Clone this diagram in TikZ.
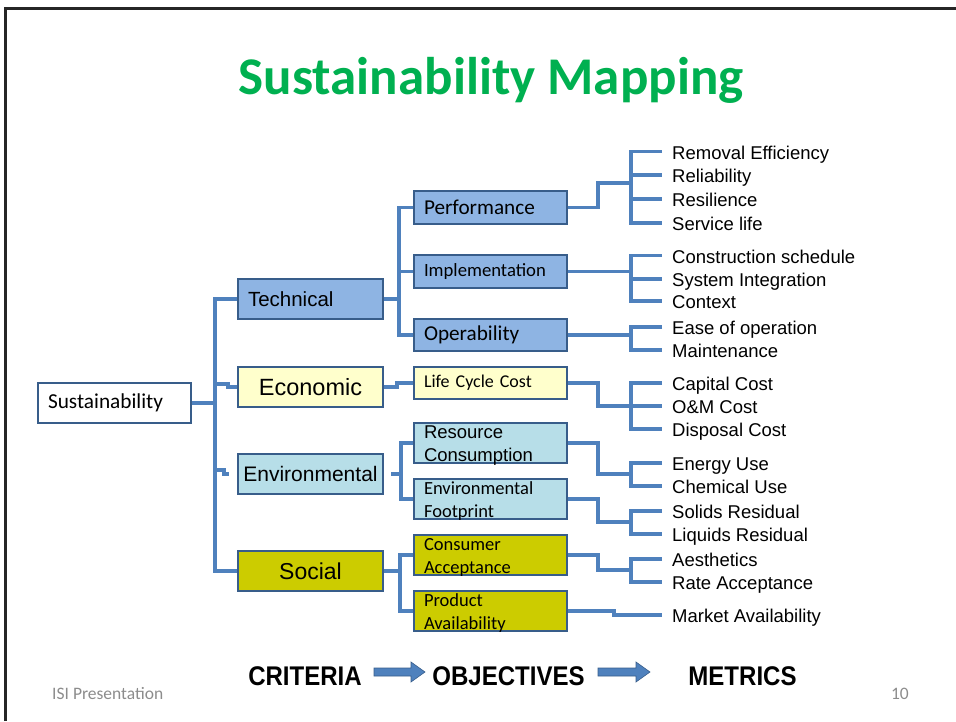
\documentclass[tikz,border=0pt]{standalone}
\usepackage{fontspec}
\usepackage{graphicx}
\setmainfont{Liberation Sans}
\newfontfamily\carl{Carlito}
\definecolor{linkblue}{HTML}{4F81BD}
\definecolor{boxborder}{HTML}{385D8A}
\definecolor{techfill}{HTML}{8EB4E3}
\definecolor{econfill}{HTML}{FFFFCC}
\definecolor{envfill}{HTML}{B7DEE8}
\definecolor{socfill}{HTML}{CCCC00}
\definecolor{titlegreen}{HTML}{00B050}
\definecolor{footgray}{HTML}{8C8C8C}
\newcommand{\fs}[1]{\fontsize{#1}{#1}\selectfont}
\tikzset{
  link/.style={draw=linkblue, line width=3.3pt, line join=miter},
  box/.style={draw=boxborder, line width=2.2pt, inner xsep=10pt, inner ysep=0pt, text=black},
  crit/.style={box, text width=125pt, minimum height=40pt},
  obj/.style={box, text width=133pt, align=left},
  twoline/.style={obj, minimum height=40pt, text height=15.5pt, text depth=24.5pt},
  metric/.style={anchor=west, inner sep=0pt, font=\fs{18.5}, text height=15pt, text depth=0pt},
  botlabel/.style={font=\bfseries\fs{27}, inner sep=0pt},
  blockarrow/.style={fill=linkblue, draw=boxborder, line width=0.6pt}
}
\begin{document}
\begin{tikzpicture}[x=1pt,y=-1pt]
\useasboundingbox (0,0) rectangle (956,721);
\draw[black!85, line width=3pt] (5,721) -- (5,8) -- (956,8);

\node[anchor=base, font=\carl\bfseries\fs{53}, text=titlegreen, inner sep=0pt] (title) at (491,94) {Sustainability Mapping};

% root
\node[box, text width=133pt, minimum height=40pt, align=left, font=\carl\fs{21.3}] (sus) at (114.5,403) {Sustainability};

% criteria
\node[crit, fill=techfill, align=left, font=\fs{20.5}] (tech) at (310.5,299) {Technical};
\node[crit, fill=econfill, align=center, font=\fs{23.5}] (econ) at (310.5,387) {Economic};
\node[crit, fill=envfill, align=center, font=\fs{21}, inner xsep=1pt, text width=143pt] (env) at (310.5,474) {Environmental};
\node[crit, fill=socfill, align=center, font=\fs{23}] (soc) at (310.5,571) {Social};

% objectives
\node[obj, fill=techfill, minimum height=33pt, font=\carl\fs{21.2}] (perf) at (490.5,207.5) {Performance};
\node[obj, fill=techfill, minimum height=33pt, font=\carl\fs{18.7}] (impl) at (490.5,271.5) {Implementation};
\node[obj, fill=techfill, minimum height=32pt, font=\carl\fs{21.2}] (oper) at (490.5,335) {Operability};
\node[obj, fill=econfill, minimum height=32pt, font=\carl\fs{18}] (lcc) at (490.5,383) {Life Cycle Cost};
\node[twoline, fill=envfill, font=\fontsize{18.5}{22.7}\selectfont] (res) at (490.5,443) {Resource\\Consumption};
\node[twoline, fill=envfill, font=\carl\fontsize{18.5}{22.5}\selectfont] (foot) at (490.5,499) {Environmental\\Footprint};
\node[twoline, fill=socfill, font=\carl\fontsize{18.5}{22.5}\selectfont] (cons) at (490.5,555) {Consumer\\Acceptance};
\node[twoline, fill=socfill, font=\carl\fontsize{18.5}{22.5}\selectfont] (prod) at (490.5,611) {Product\\Availability};

% metrics
\node[metric] (m1) at (672,151.5) {Removal Efficiency};
\node[metric] (m2) at (672,175) {Reliability};
\node[metric] (m3) at (672,199) {Resilience};
\node[metric] (m4) at (672,223) {Service life};
\node[metric] (m5) at (672,255.5) {Construction schedule};
\node[metric] (m6) at (672,279) {System Integration};
\node[metric] (m7) at (672,301) {Context};
\node[metric] (m8) at (672,327) {Ease of operation};
\node[metric] (m9) at (672,350) {Maintenance};
\node[metric] (m10) at (672,383) {Capital Cost};
\node[metric] (m11) at (672,406) {O\&M Cost};
\node[metric] (m12) at (672,429) {Disposal Cost};
\node[metric] (m13) at (672,463) {Energy Use};
\node[metric] (m14) at (672,486) {Chemical Use};
\node[metric] (m15) at (672,511) {Solids Residual};
\node[metric] (m16) at (672,534) {Liquids Residual};
\node[metric] (m17) at (672,559) {Aesthetics};
\node[metric] (m18) at (672,582) {Rate Acceptance};
\node[metric] (m19) at (672,615) {Market Availability};

% root -> criteria
\draw[link] (sus.east) -- (215,403);
\draw[link] (tech.west) -- (215,299) -- (215,571) -- (soc.west);
\draw[link] (215,384) -- (228,384) -- (228,387) -- (econ.west);
\coordinate (envstub) at ([xshift=-8pt]env.west);
\draw[link] (215,470) -- (224,470) -- (224,474) -- (envstub);

% criteria -> objectives
\draw[link] (tech.east) -- (399,299);
\draw[link] (perf.west) -- (399,207.5) -- (399,335) -- (oper.west);
\draw[link] (impl.west) -- (399,271.5);
\draw[link] (econ.east) -- (397,387) -- (397,383) -- (lcc.west);
\coordinate (envout) at ([xshift=7pt]env.east);
\draw[link] (envout) -- (401,474);
\draw[link] (res.west) -- (401,443) -- (401,499) -- (foot.west);
\draw[link] (soc.east) -- (400,571);
\draw[link] (cons.west) -- (400,555) -- (400,611) -- (prod.west);

% objectives -> metrics
\draw[link] (perf.east) -- (598,207.5) -- (598,183) -- (631,183);
\draw[link] ([xshift=-10pt]m1.west) -- (631,151.5) -- (631,223) -- ([xshift=-10pt]m4.west);
\draw[link] (631,175) -- ([xshift=-10pt]m2.west);
\draw[link] (631,199) -- ([xshift=-10pt]m3.west);

\draw[link] (impl.east) -- (631,271.5);
\draw[link] ([xshift=-10pt]m5.west) -- (631,255.5) -- (631,301) -- ([xshift=-10pt]m7.west);
\draw[link] (631,279) -- ([xshift=-10pt]m6.west);

\draw[link] (oper.east) -- (631,335);
\draw[link] ([xshift=-10pt]m8.west) -- (631,327) -- (631,350) -- ([xshift=-10pt]m9.west);

\draw[link] (lcc.east) -- (598,383) -- (598,406) -- (631,406);
\draw[link] ([xshift=-10pt]m10.west) -- (631,383) -- (631,429) -- ([xshift=-10pt]m12.west);
\draw[link] (631,406) -- ([xshift=-10pt]m11.west);

\draw[link] (res.east) -- (598,443) -- (598,474) -- (631,474);
\draw[link] ([xshift=-10pt]m13.west) -- (631,463) -- (631,486) -- ([xshift=-10pt]m14.west);

\draw[link] (foot.east) -- (598,499) -- (598,522) -- (631,522);
\draw[link] ([xshift=-10pt]m15.west) -- (631,511) -- (631,534) -- ([xshift=-10pt]m16.west);

\draw[link] (cons.east) -- (598,555) -- (598,570) -- (631,570);
\draw[link] ([xshift=-10pt]m17.west) -- (631,559) -- (631,582) -- ([xshift=-10pt]m18.west);

\draw[link] (prod.east) -- (614,611) -- (614,615) -- ([xshift=-10pt]m19.west);

% bottom labels
\node[botlabel] (critl) at (305,676) {\scalebox{0.89}[1]{CRITERIA}};
\node[botlabel] (objl) at (508.5,676) {\scalebox{0.89}[1]{OBJECTIVES}};
\node[botlabel] (metl) at (742.5,676) {\scalebox{0.89}[1]{METRICS}};
\draw[blockarrow] (374,668) -- (411,668) -- (411,662) -- (425,672) -- (411,682) -- (411,676) -- (374,676) -- cycle;
\draw[blockarrow] (598,668) -- (636,668) -- (636,662) -- (650,672) -- (636,682) -- (636,676) -- (598,676) -- cycle;

% footer
\node[anchor=base west, inner sep=0pt, font=\carl\fs{17.5}, text=footgray] (isi) at (52,699) {ISI Presentation};
\node[anchor=base east, inner sep=0pt, font=\carl\fs{17.5}, text=footgray] (pgnum) at (909,699) {10};
\end{tikzpicture}
\end{document}
